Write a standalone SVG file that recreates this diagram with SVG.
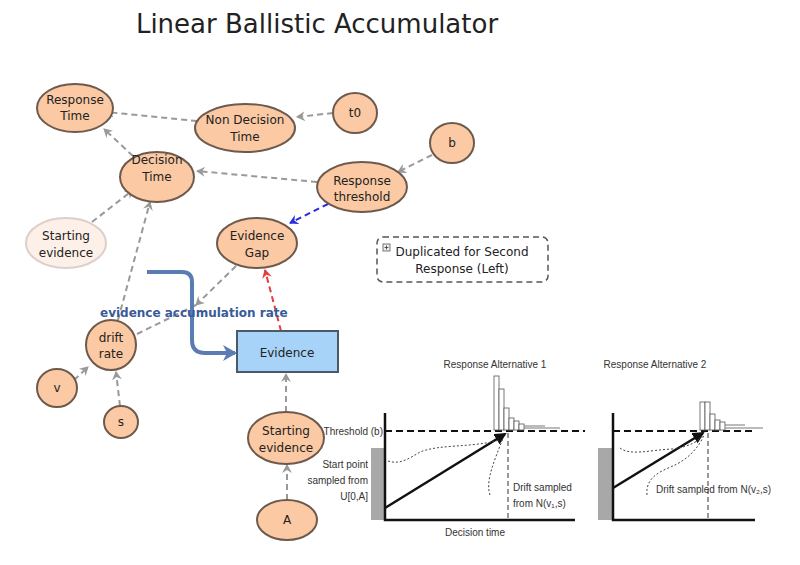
<svg xmlns="http://www.w3.org/2000/svg" width="800" height="565" viewBox="0 0 800 565">
<style>
text{font-family:"DejaVu Sans","Liberation Sans",sans-serif;fill:#222}
.n{fill:#fbc9a3;stroke:#6e5a4c;stroke-width:2}
.nt{font-size:12px;text-anchor:middle}
.e{stroke:#999;stroke-width:2;stroke-dasharray:6,4;fill:none}
.c{font-family:"Liberation Sans",sans-serif;font-size:10px;fill:#333}
.ax{stroke:#111;stroke-width:2.5;fill:none}
.dl{stroke:#111;stroke-width:2;stroke-dasharray:7,4;fill:none}
.vl{stroke:#333;stroke-width:1;stroke-dasharray:5,3;fill:none}
.dot{stroke:#444;stroke-width:1;stroke-dasharray:2,2;fill:none}
.bar{fill:#fff;stroke:#555;stroke-width:0.8}
</style>
<defs>
<marker id="ag" markerWidth="10" markerHeight="10" refX="8" refY="5" orient="auto" markerUnits="userSpaceOnUse"><path d="M0,0 L9,5 L0,10 L3,5 Z" fill="#999"/></marker>
<marker id="ab" markerWidth="10" markerHeight="10" refX="8" refY="5" orient="auto" markerUnits="userSpaceOnUse"><path d="M0,0 L9,5 L0,10 L3,5 Z" fill="#2a2ae0"/></marker>
<marker id="ar" markerWidth="10" markerHeight="10" refX="8" refY="5" orient="auto" markerUnits="userSpaceOnUse"><path d="M0,0 L9,5 L0,10 L3,5 Z" fill="#e83a3a"/></marker>
<marker id="abl" markerWidth="16" markerHeight="16" refX="12" refY="8" orient="auto" markerUnits="userSpaceOnUse"><path d="M0,0 L14,8 L0,16 L4,8 Z" fill="#5b7bb4"/></marker>
<marker id="ak" markerWidth="12" markerHeight="12" refX="10" refY="6" orient="auto" markerUnits="userSpaceOnUse"><path d="M0,0 L12,6 L0,12 Z" fill="#111"/></marker>
</defs>
<text x="317" y="33" font-size="26" text-anchor="middle">Linear Ballistic Accumulator</text>
<g id="connectors">
<line class="e" x1="197" y1="121" x2="106" y2="112" marker-end="url(#ag)"/>
<line class="e" x1="333" y1="113" x2="297" y2="117" marker-end="url(#ag)"/>
<line class="e" x1="133" y1="156" x2="104" y2="129" marker-end="url(#ag)"/>
<line class="e" x1="317" y1="182" x2="197" y2="171" marker-end="url(#ag)"/>
<line class="e" x1="432" y1="155" x2="398" y2="172" marker-end="url(#ag)"/>
<line class="e" x1="92" y1="222" x2="133" y2="190" marker-end="url(#ag)"/>
<line class="e" x1="118" y1="320" x2="150" y2="202" marker-end="url(#ag)"/>
<line class="e" x1="236" y1="266" x2="196" y2="305" marker-end="url(#ag)"/>
<line class="e" x1="137" y1="334" x2="196" y2="305"/>
<line x1="328" y1="204" x2="290" y2="223" stroke="#2a2ae0" stroke-width="2" stroke-dasharray="6,4" marker-end="url(#ab)"/>
<line x1="281" y1="331" x2="265" y2="270" stroke="#e83a3a" stroke-width="2" stroke-dasharray="6,4" marker-end="url(#ar)"/>
<line class="e" x1="286" y1="412" x2="286" y2="374" marker-end="url(#ag)"/>
<line class="e" x1="287" y1="500" x2="287" y2="465" marker-end="url(#ag)"/>
<line class="e" x1="74" y1="380" x2="88" y2="367" marker-end="url(#ag)"/>
<line class="e" x1="120" y1="406" x2="116" y2="372" marker-end="url(#ag)"/>
<path d="M147,272 H182 Q192,272 192,282 V340 Q192,353 205,353 H235" stroke="#5b7bb4" stroke-width="4" fill="none" marker-end="url(#abl)"/>
<text x="100" y="317" font-size="12" font-weight="bold" style="fill:#3a5a9a">evidence accumulation rate</text>
</g>
<g id="response-time"><ellipse class="n" cx="75" cy="108" rx="38" ry="24"/><text class="nt" x="75" y="104">Response</text><text class="nt" x="75" y="120">Time</text></g>
<g id="non-decision-time"><ellipse class="n" cx="245" cy="128" rx="50" ry="24"/><text class="nt" x="245" y="124">Non Decision</text><text class="nt" x="245" y="141">Time</text></g>
<g id="t0"><ellipse class="n" cx="355" cy="113" rx="22" ry="20"/><text class="nt" x="355" y="117">t0</text></g>
<g id="b"><ellipse class="n" cx="452" cy="143" rx="22" ry="20"/><text class="nt" x="452" y="147">b</text></g>
<g id="decision-time"><ellipse class="n" cx="157" cy="177" rx="37" ry="25"/><text class="nt" x="157" y="164">Decision</text><text class="nt" x="157" y="181">Time</text></g>
<g id="response-threshold"><ellipse class="n" cx="362" cy="187" rx="45" ry="25"/><text class="nt" x="362" y="185">Response</text><text class="nt" x="362" y="201">threshold</text></g>
<g id="starting-evidence-faded"><ellipse cx="66" cy="243" rx="40" ry="25" fill="#fdf0e8" stroke="#ddd0c8" stroke-width="2"/><text class="nt" x="66" y="240">Starting</text><text class="nt" x="66" y="257">evidence</text></g>
<g id="evidence-gap"><ellipse class="n" cx="257" cy="243" rx="40" ry="25"/><text class="nt" x="257" y="240">Evidence</text><text class="nt" x="257" y="257">Gap</text></g>
<g id="duplicated"><rect x="377" y="237" width="171" height="45" rx="6" fill="#fff" stroke="#555" stroke-width="1.5" stroke-dasharray="6,4"/><rect x="383" y="244" width="7" height="7" fill="#eee" stroke="#555" stroke-width="0.8"/><path d="M384.5,247.5 h4 M386.5,245.5 v4" stroke="#333" stroke-width="0.8"/><text class="nt" x="462" y="256">Duplicated for Second</text><text class="nt" x="462" y="273">Response (Left)</text></g>
<g id="drift-rate"><ellipse class="n" cx="111" cy="345" rx="25" ry="25"/><text class="nt" x="111" y="342">drift</text><text class="nt" x="111" y="358">rate</text></g>
<g id="v"><ellipse class="n" cx="57" cy="388" rx="20" ry="19"/><text class="nt" x="57" y="392">v</text></g>
<g id="s"><ellipse class="n" cx="121" cy="422" rx="17" ry="16"/><text class="nt" x="121" y="426">s</text></g>
<g id="evidence"><rect x="237" y="331" width="101" height="41" fill="#a6d3f7" stroke="#4a5a66" stroke-width="2"/><text class="nt" x="287" y="357">Evidence</text></g>
<g id="starting-evidence"><ellipse class="n" cx="286" cy="438" rx="38" ry="26"/><text class="nt" x="286" y="435">Starting</text><text class="nt" x="286" y="452">evidence</text></g>
<g id="A"><ellipse class="n" cx="287" cy="520" rx="30" ry="20"/><text class="nt" x="287" y="524">A</text></g>
<g id="chart">
<text class="c" x="495" y="368" text-anchor="middle">Response Alternative 1</text>
<text class="c" x="655" y="368" text-anchor="middle">Response Alternative 2</text>
<rect x="371" y="448" width="13" height="72" fill="#a8a8a8"/>
<rect x="598" y="448" width="14" height="72" fill="#a8a8a8"/>
<path class="ax" d="M385,413 V520 H575"/>
<path class="ax" d="M613,413 V520 H755"/>
<line class="dl" x1="385" y1="431" x2="585" y2="431"/>
<line class="dl" x1="613" y1="431" x2="755" y2="431"/>
<line class="vl" x1="508" y1="433" x2="508" y2="520"/>
<line class="vl" x1="708" y1="433" x2="708" y2="520"/>
<line x1="385" y1="508" x2="505" y2="434" stroke="#111" stroke-width="2.5" marker-end="url(#ak)"/>
<line x1="613" y1="488" x2="703" y2="433" stroke="#111" stroke-width="2.5" marker-end="url(#ak)"/>
<path class="dot" d="M388,461 C400,465 410,458 420,452 C440,444 470,448 500,440"/>
<path class="dot" d="M490,495 C485,480 495,460 503,438"/>
<path class="dot" d="M620,448 C630,456 650,450 672,449 C690,447 700,440 703,435"/>
<path class="dot" d="M647,495 C645,475 665,470 675,465 C690,458 700,445 704,435"/>
<rect class="bar" x="494" y="376" width="5" height="54"/>
<rect class="bar" x="499" y="389" width="5" height="41"/>
<rect class="bar" x="504" y="408" width="5" height="22"/>
<rect class="bar" x="509" y="418" width="5" height="12"/>
<rect class="bar" x="514" y="421" width="5" height="9"/>
<rect class="bar" x="519" y="424" width="5" height="6"/>
<path d="M524,426 H545 M524,428 H560" stroke="#777" stroke-width="1"/>
<rect class="bar" x="700" y="402" width="5" height="28"/>
<rect class="bar" x="705" y="402" width="5" height="28"/>
<rect class="bar" x="710" y="414" width="5" height="16"/>
<rect class="bar" x="715" y="420" width="5" height="10"/>
<rect class="bar" x="720" y="422" width="5" height="8"/>
<path d="M725,425 H745 M725,428 H763" stroke="#777" stroke-width="1"/>
<text class="c" x="383" y="435" text-anchor="end">Threshold (b)</text>
<text class="c" x="368" y="468" text-anchor="end">Start point</text>
<text class="c" x="368" y="484" text-anchor="end">sampled from</text>
<text class="c" x="368" y="500" text-anchor="end">U[0,A]</text>
<text class="c" x="513" y="491">Drift sampled</text>
<text class="c" x="513" y="507">from N(v₁,s)</text>
<text class="c" x="656" y="493">Drift sampled from N(v₂,s)</text>
<text class="c" x="475" y="536" text-anchor="middle">Decision time</text>
</g>
</svg>
